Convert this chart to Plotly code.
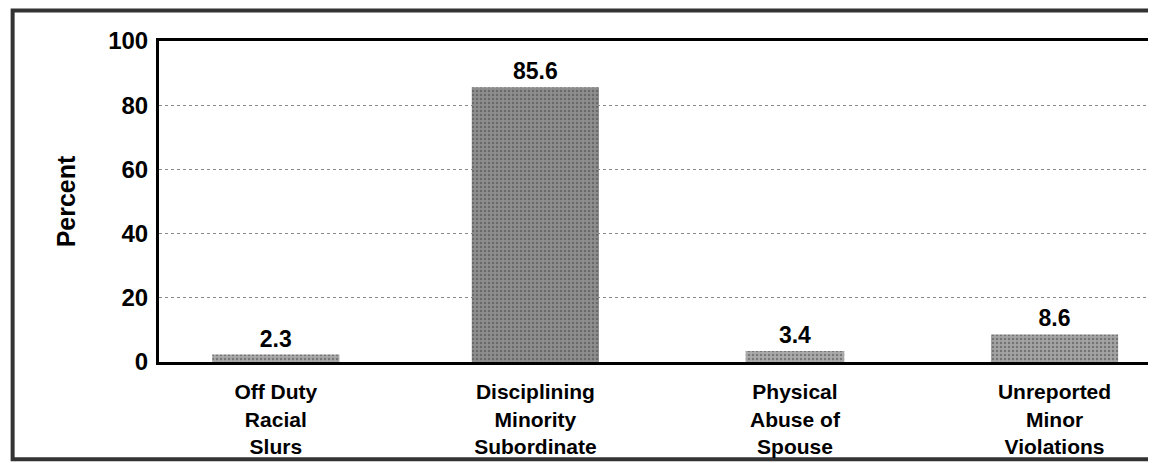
import plotly.graph_objects as go

categories = ["Off Duty<br>Racial<br>Slurs",
              "Disciplining<br>Minority<br>Subordinate",
              "Physical<br>Abuse of<br>Spouse",
              "Unreported<br>Minor<br>Violations"]
percent = [2.3, 85.6, 3.4, 8.6]
y_ticks = [0, 20, 40, 60, 80, 100]

bar_colors = ["#a9a9a9", "#8e8e8e", "#ababab", "#a4a4a4"]
bar_widths = [0.49, 0.49, 0.38, 0.49]

fig = go.Figure()
fig.add_trace(go.Bar(
    x=list(range(len(categories))),
    y=percent,
    width=bar_widths,
    marker=dict(color=bar_colors, line_width=0,
                pattern=dict(shape=".", fgcolor="#5a5a5a", bgcolor="#c4c4c4",
                             size=4, solidity=0.3)),
    text=[f"<b>{v:.1f}</b>" for v in percent],
    textposition="outside",
    textfont=dict(family="Liberation Sans, Arial", size=23, color="black"),
    cliponaxis=False,
))

# outer frame of the scanned figure
fig.add_shape(type="rect", xref="paper", yref="paper", x0=-0.148, x1=1.03, y0=-0.303, y1=1.095,
              line=dict(color="#333333", width=4), layer="below")

# page body adds 8px margin, so the figure is sized to fit the window
fig.update_layout(
    width=1148, height=455,
    margin=dict(l=151, r=8, t=33, b=101),
    paper_bgcolor="white", plot_bgcolor="white",
    showlegend=False,
    font=dict(family="Liberation Sans, Arial", color="black"),
    xaxis=dict(range=[-0.45, 3.36], tickvals=list(range(len(categories))),
               ticktext=[f"<b>{c}</b>" for c in categories], tickfont=dict(size=21),
               showgrid=False, zeroline=False, automargin=False, ticklabelstandoff=9,
               showline=True, linecolor="black", linewidth=3, mirror=True, ticks=""),
    yaxis=dict(range=[0, 100], tickvals=y_ticks, ticktext=[f"<b>{t}</b>" for t in y_ticks],
               tickfont=dict(size=24), showgrid=True, gridcolor="#8a8a8a", griddash="dot",
               gridwidth=1, zeroline=False, showline=True, linecolor="black", linewidth=3,
               mirror=True, ticks="", ticklabelstandoff=3, automargin=False,
               title=dict(text="<b>Percent</b>", font=dict(size=25), standoff=26)),
)

fig.write_html("out.html")
